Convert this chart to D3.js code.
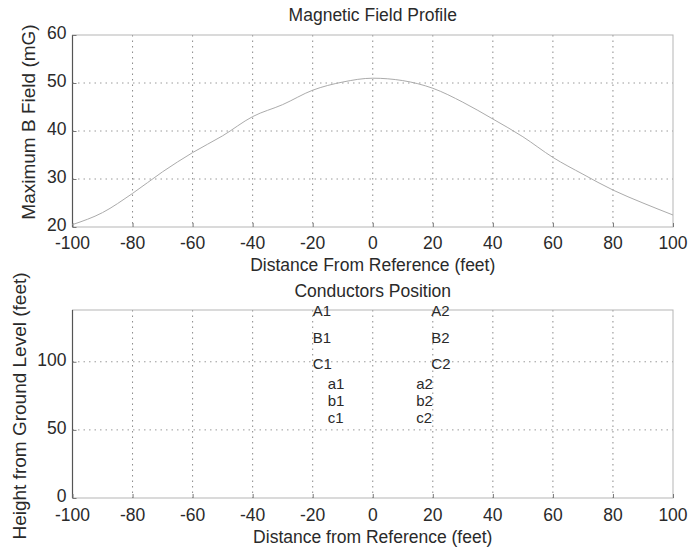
<!DOCTYPE html>
<html>
<head>
<meta charset="utf-8">
<script src="https://cdn.jsdelivr.net/npm/d3@7"></script>
<style>
  body { margin: 0; background: #fff; }
  svg { display: block; font-family: "Liberation Sans", Arial, sans-serif; }
  text { fill: #2a2a2a; }
</style>
</head>
<body>
<div id="chart"></div>
<script>
// Top panel: maximum B field along the cross-section
const fieldX = [-100, -90, -80, -70, -60, -50, -40, -30, -20, -10, 0, 10, 20, 30, 40, 50, 60, 70, 80, 90, 100];
const fieldB = [20.5, 23, 27, 31.5, 35.5, 39, 43, 45.5, 48.5, 50.2, 51, 50.5, 48.9, 46, 42.5, 38.8, 34.5, 31, 27.7, 25, 22.5];

// Bottom panel: conductor positions (label, x feet, height feet)
const condLabels = ["A1", "B1", "C1", "a1", "b1", "c1", "A2", "B2", "C2", "a2", "b2", "c2"];
const condX = [-20, -20, -20, -15, -15, -15, 19.5, 19.5, 19.5, 14.5, 14.5, 14.5];
const condH = [138, 118, 99, 84, 71.5, 59, 138, 118, 99, 84, 71.5, 59];

const xTicks = [-100, -80, -60, -40, -20, 0, 20, 40, 60, 80, 100];
const topYTicks = [20, 30, 40, 50, 60];
const botYTicks = [0, 50, 100];

const W = 688, H = 550;
const svg = d3.select("#chart").append("svg").attr("width", W).attr("height", H);

const x = d3.scaleLinear().domain([-100, 100]).range([72.5, 673]);
const yTop = d3.scaleLinear().domain([20, 60]).range([227, 35]);
const yBot = d3.scaleLinear().domain([0, 138]).range([498, 310]);

function panel(y, yTicks, o) {
  const g = svg.append("g");
  const [x0, x1] = x.range();
  const [yb, yt] = y.range();

  // dotted grid
  g.append("g").selectAll("line").data(xTicks.slice(1, -1)).join("line")
    .attr("x1", d => x(d)).attr("x2", d => x(d))
    .attr("y1", yt).attr("y2", yb)
    .attr("stroke", "#8a8a8a").attr("stroke-dasharray", "1.5,4");
  g.append("g").selectAll("line").data(yTicks.filter(d => y(d) > yt + 1 && y(d) < yb - 1)).join("line")
    .attr("x1", x0).attr("x2", x1)
    .attr("y1", d => y(d)).attr("y2", d => y(d))
    .attr("stroke", "#9a9a9a").attr("stroke-dasharray", "1.5,4");

  // box
  g.append("rect").attr("x", x0).attr("y", yt).attr("width", x1 - x0).attr("height", yb - yt)
    .attr("fill", "none").attr("stroke", "#b5b5b5").attr("stroke-width", 1);
  g.append("line").attr("x1", x0).attr("x2", x0).attr("y1", yt).attr("y2", yb)
    .attr("stroke", "#555").attr("stroke-width", 1.2);

  // inward ticks
  const axB = d3.axisBottom(x).tickValues(xTicks).tickSize(-4).tickFormat("");
  const axL = d3.axisLeft(y).tickValues(yTicks).tickSize(-4).tickFormat("");
  [g.append("g").attr("transform", `translate(0,${yb})`).call(axB),
   g.append("g").attr("transform", `translate(${x0},0)`).call(axL)].forEach(a => {
    a.select(".domain").remove();
    a.selectAll("line").attr("stroke", "#777");
  });

  // tick labels
  g.append("g").selectAll("text").data(xTicks).join("text")
    .attr("x", d => x(d)).attr("y", yb + o.xLabDy)
    .attr("text-anchor", "middle").attr("font-size", 17.5)
    .text(d => d);
  g.append("g").selectAll("text").data(yTicks).join("text")
    .attr("x", x0 - 6).attr("y", d => y(d) + 4)
    .attr("text-anchor", "end").attr("font-size", 17.5)
    .text(d => d);

  // titles
  g.append("text").attr("x", (x0 + x1) / 2).attr("y", o.titleY)
    .attr("text-anchor", "middle").attr("font-size", 17.5).text(o.title);
  g.append("text").attr("x", (x0 + x1) / 2).attr("y", o.xTitleY)
    .attr("text-anchor", "middle").attr("font-size", 17.5).text(o.xTitle);
  g.append("text").attr("transform", `translate(${o.yTitleX},${o.yTitleY}) rotate(-90)`)
    .attr("text-anchor", "middle").attr("font-size", 19).text(o.yTitle);
  return g;
}

const gTop = panel(yTop, topYTicks, {
  xLabDy: 22, title: "Magnetic Field Profile", titleY: 21,
  xTitle: "Distance From Reference (feet)", xTitleY: 271,
  yTitle: "Maximum B Field (mG)", yTitleX: 35, yTitleY: 122
});

gTop.append("path")
  .datum(fieldX.map((d, i) => [d, fieldB[i]]))
  .attr("fill", "none").attr("stroke", "#ababab").attr("stroke-width", 1)
  .attr("d", d3.line().x(d => x(d[0])).y(d => yTop(Math.max(20, d[1]))).curve(d3.curveMonotoneX));

const gBot = panel(yBot, botYTicks, {
  xLabDy: 23, title: "Conductors Position", titleY: 297,
  xTitle: "Distance from Reference (feet)", xTitleY: 543,
  yTitle: "Height from Ground Level (feet)", yTitleX: 26, yTitleY: 406
});

gBot.append("g").selectAll("text").data(condLabels).join("text")
  .attr("x", (d, i) => x(condX[i]))
  .attr("y", (d, i) => yBot(condH[i]) + 5.5)
  .attr("text-anchor", "start").attr("font-size", 15)
  .text(d => d);
</script>
</body>
</html>
